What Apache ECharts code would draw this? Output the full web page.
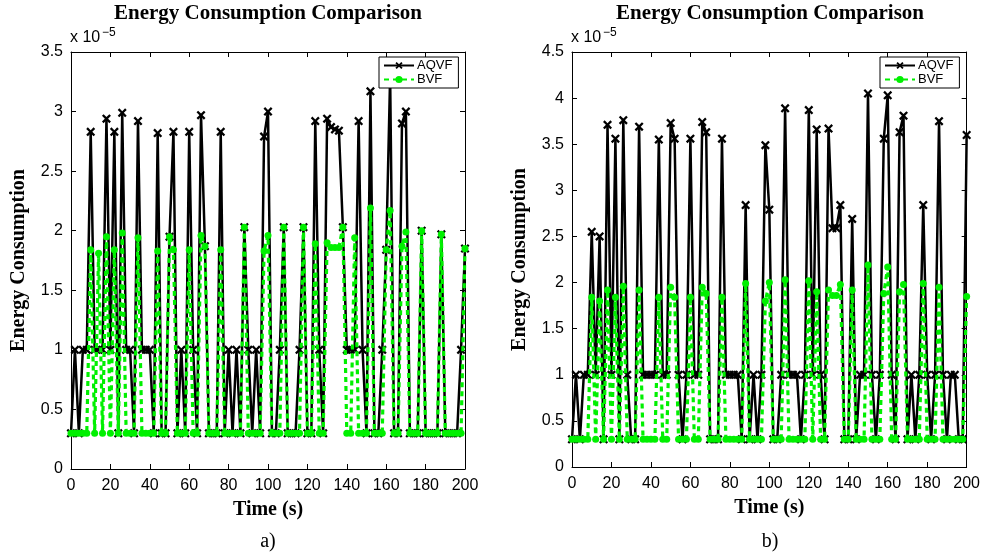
<!DOCTYPE html>
<html>
<head>
<meta charset="utf-8">
<title>Energy Consumption Comparison</title>
<script src="https://cdn.jsdelivr.net/npm/echarts@6/dist/echarts.min.js"></script>
<style>
  html, body { margin: 0; padding: 0; background: #ffffff; }
  #chart { width: 983px; height: 554px; }
</style>
</head>
<body>
<div id="chart"></div>
<script>
// Sampling instants (s)
const timeS = [0,2,4,6,8,10,12,14,16,18,20,22,24,26,28,30,32,34,36,38,40,42,44,46,48,50,
  52,54,56,58,60,62,64,66,68,70,72,74,76,78,80,82,84,86,88,90,92,94,96,98,100,
  102,104,106,108,110,112,114,116,118,120,122,124,126,128,130,132,134,136,138,140,
  142,144,146,148,150,152,154,156,158,160,162,164,166,168,170,172,174,176,178,180,
  182,184,186,188,190,192,194,196,198,200];

// Energy consumption, in units of 1e-5 — scenario a)
const aqvfA = [0.3,1.0,0.3,1.0,1.0,2.83,1.0,1.0,1.0,2.94,1.0,2.83,0.3,2.99,1.0,1.0,0.3,2.92,1.0,1.0,1.0,
  0.3,2.82,0.3,0.3,1.95,2.83,0.3,1.0,0.3,2.83,1.0,0.3,2.97,1.87,0.3,0.3,0.3,2.83,0.3,1.0,
  0.3,1.0,0.3,2.03,1.0,0.3,1.0,0.3,2.79,3.0,0.3,0.3,1.0,2.03,0.3,0.3,0.3,1.0,2.03,0.3,
  0.3,2.92,1.0,0.3,2.94,2.87,2.85,2.84,2.03,1.0,1.0,1.0,2.92,1.0,0.3,3.17,0.3,0.3,1.0,1.84,
  3.3,0.3,0.3,2.9,3.0,0.3,0.3,0.3,2.0,0.3,0.3,0.3,0.3,1.97,0.3,0.3,0.3,0.3,1.0,1.85];
const bvfA = [0.3,0.3,0.3,0.3,0.3,1.84,0.3,1.81,0.3,1.95,0.3,1.84,0.3,1.98,0.3,0.3,0.3,1.94,0.3,0.3,0.3,
  0.3,1.83,0.3,0.3,1.95,1.84,0.3,0.3,0.3,1.84,0.3,0.3,1.96,1.87,0.3,0.3,0.3,1.84,0.3,0.3,
  0.3,0.3,0.3,2.03,0.3,0.3,0.3,0.3,1.83,1.96,0.3,0.3,0.3,2.03,0.3,0.3,0.3,0.3,2.03,0.3,
  0.3,1.89,0.3,0.3,1.9,1.86,1.86,1.86,2.03,0.3,0.3,1.94,0.3,0.3,0.3,2.19,0.3,0.3,0.3,1.84,
  2.17,0.3,0.3,1.87,1.99,0.3,0.3,0.3,2.0,0.3,0.3,0.3,0.3,1.97,0.3,0.3,0.3,0.3,0.3,1.85];

// Energy consumption, in units of 1e-5 — scenario b)
const aqvfB = [0.3,1.0,0.3,1.0,1.0,2.55,1.0,2.5,0.3,3.71,1.0,3.56,0.3,3.76,1.0,0.3,0.3,3.69,1.0,1.0,1.0,
  1.0,3.55,1.0,1.0,3.73,3.56,1.0,0.3,1.0,3.56,1.0,1.0,3.74,3.63,0.3,0.3,0.3,3.56,1.0,1.0,
  1.0,1.0,0.3,2.84,0.3,1.0,0.3,1.0,3.49,2.79,0.3,0.3,1.0,3.89,1.0,1.0,1.0,0.3,1.0,3.87,
  1.0,3.66,1.0,0.3,3.67,2.59,2.59,2.84,0.3,0.3,2.69,0.3,1.0,1.0,4.05,1.0,0.3,1.0,3.56,4.03,
  1.0,0.3,3.63,3.81,0.3,1.0,0.3,1.0,2.84,1.0,0.3,1.0,3.75,1.0,0.3,1.0,1.0,0.3,0.3,3.6];
const bvfB = [0.3,0.3,0.3,0.3,0.3,1.84,0.3,1.80,0.3,1.92,0.3,1.84,0.3,1.96,0.3,0.3,0.3,1.92,0.3,0.3,0.3,
  0.3,1.84,0.3,0.3,1.95,1.84,0.3,0.3,0.3,1.84,0.3,0.3,1.95,1.88,0.3,0.3,0.3,1.84,0.3,0.3,
  0.3,0.3,0.3,1.99,0.3,0.3,0.3,0.3,1.80,2.0,0.3,0.3,0.3,2.03,0.3,0.3,0.3,0.3,0.3,2.02,
  0.3,1.90,0.3,0.3,1.92,1.86,1.86,1.98,0.3,0.3,1.92,0.3,0.3,0.3,2.19,0.3,0.3,0.3,1.88,2.17,
  0.3,0.3,1.90,1.98,0.3,0.3,0.3,0.3,1.99,0.3,0.3,0.3,1.95,0.3,0.3,0.3,0.3,0.3,0.3,1.85];

const xTicks = { min: 0, max: 200, interval: 20 };
const yTicksA = { min: 0, max: 3.5, interval: 0.5 };
const yTicksB = { min: 0, max: 4.5, interval: 0.5 };

const SERIF = '"Liberation Serif", "Times New Roman", serif';
const SANS = '"Liberation Sans", Arial, Helvetica, sans-serif';
const CROSS = 'path://M0,1.8 L1.8,0 L5,3.2 L8.2,0 L10,1.8 L6.8,5 L10,8.2 L8.2,10 L5,6.8 L1.8,10 L0,8.2 L3.2,5 Z';
const GREEN = '#00f000';

const pairs = (xs, ys) => xs.map((x, i) => [x, ys[i]]);

function bottomX(grid, name) {
  return {
    type: 'value', gridIndex: grid, position: 'bottom',
    min: xTicks.min, max: xTicks.max, interval: xTicks.interval,
    name: name, nameLocation: 'middle', nameGap: 31,
    nameTextStyle: { fontFamily: SERIF, fontWeight: 'bold', fontSize: 20, color: '#000' },
    axisLine: { onZero: false, lineStyle: { color: '#000', width: 1 } },
    axisTick: { inside: true, length: 5, lineStyle: { color: '#000' } },
    axisLabel: { margin: 9, fontFamily: SANS, fontSize: 16, color: '#000' },
    splitLine: { show: false }
  };
}
function topX(grid) {
  return {
    type: 'value', gridIndex: grid, position: 'top',
    min: xTicks.min, max: xTicks.max, interval: xTicks.interval,
    axisLine: { onZero: false, lineStyle: { color: '#000', width: 1 } },
    axisTick: { inside: true, length: 5, lineStyle: { color: '#000' } },
    axisLabel: { show: false }, splitLine: { show: false }
  };
}
function leftY(grid, t) {
  return {
    type: 'value', gridIndex: grid, position: 'left',
    min: t.min, max: t.max, interval: t.interval,
    name: 'Energy Consumption', nameLocation: 'middle', nameGap: 42,
    nameTextStyle: { fontFamily: SERIF, fontWeight: 'bold', fontSize: 20, color: '#000' },
    axisLine: { show: true, onZero: false, lineStyle: { color: '#000', width: 1 } },
    axisTick: { show: true, inside: true, length: 5, lineStyle: { color: '#000' } },
    axisLabel: { margin: 8, fontFamily: SANS, fontSize: 16, color: '#000' },
    splitLine: { show: false }
  };
}
function rightY(grid, t) {
  return {
    type: 'value', gridIndex: grid, position: 'right',
    min: t.min, max: t.max, interval: t.interval,
    axisLine: { show: true, onZero: false, lineStyle: { color: '#000', width: 1 } },
    axisTick: { show: true, inside: true, length: 5, lineStyle: { color: '#000' } },
    axisLabel: { show: false }, splitLine: { show: false }
  };
}
function aqvfSeries(name, xi, yi, values) {
  return {
    name: name, type: 'line', xAxisIndex: xi, yAxisIndex: yi,
    data: pairs(timeS, values),
    symbol: CROSS, symbolSize: 9, showSymbol: true,
    lineStyle: { color: '#000', width: 2.5 },
    itemStyle: { color: '#000' },
    z: 2
  };
}
function bvfSeries(name, xi, yi, values) {
  return {
    name: name, type: 'line', xAxisIndex: xi, yAxisIndex: yi,
    data: pairs(timeS, values),
    symbol: 'circle', symbolSize: 7, showSymbol: true,
    lineStyle: { color: GREEN, width: 3.2, type: [5, 4] },
    itemStyle: { color: GREEN, borderWidth: 0 },
    z: 3
  };
}
function legendAt(left) {
  return {
    left: left, top: 57, orient: 'vertical',
    data: ['AQVF', 'BVF'],
    backgroundColor: '#fff', borderColor: '#000', borderWidth: 1,
    padding: [2, 6, 2, 4], itemGap: 1, itemWidth: 30, itemHeight: 9,
    textStyle: { fontFamily: SANS, fontSize: 13, color: '#000', padding: [0, 0, 0, -2] },
    selectedMode: false
  };
}
function txt(x, y, text, font, extra) {
  return {
    type: 'text', x: x, y: y, silent: true,
    style: Object.assign({ text: text, font: font, fill: '#000' }, extra || {})
  };
}

const chart = echarts.init(document.getElementById('chart'), null, { renderer: 'canvas' });
chart.setOption({
  animation: false,
  backgroundColor: '#fff',
  grid: [
    { left: 71, top: 52, width: 394, height: 417, containLabel: false },
    { left: 572, top: 52, width: 396, height: 415, containLabel: false }
  ],
  xAxis: [bottomX(0, 'Time (s)'), topX(0), bottomX(1, 'Time (s)'), topX(1)],
  yAxis: [leftY(0, yTicksA), rightY(0, yTicksA), leftY(1, yTicksB), rightY(1, yTicksB)],
  legend: [legendAt(379), legendAt(880)],
  series: [
    aqvfSeries('AQVF', 0, 0, aqvfA),
    bvfSeries('BVF', 0, 0, bvfA),
    aqvfSeries('AQVF', 2, 2, aqvfB),
    bvfSeries('BVF', 2, 2, bvfB)
  ],
  graphic: [
    txt(268, 14, 'Energy Consumption Comparison', 'bold 21px ' + SERIF, { align: 'center', verticalAlign: 'middle' }),
    txt(770, 14, 'Energy Consumption Comparison', 'bold 21px ' + SERIF, { align: 'center', verticalAlign: 'middle' }),
    txt(70, 46, 'x 10', '16px ' + SANS, { verticalAlign: 'bottom' }),
    txt(102, 39, '\u22125', '12px ' + SANS, { verticalAlign: 'bottom' }),
    txt(571, 46, 'x 10', '16px ' + SANS, { verticalAlign: 'bottom' }),
    txt(603, 39, '\u22125', '12px ' + SANS, { verticalAlign: 'bottom' }),
    txt(268, 542, 'a)', '20px ' + SERIF, { align: 'center', verticalAlign: 'middle' }),
    txt(770, 542, 'b)', '20px ' + SERIF, { align: 'center', verticalAlign: 'middle' })
  ]
});
</script>
</body>
</html>
